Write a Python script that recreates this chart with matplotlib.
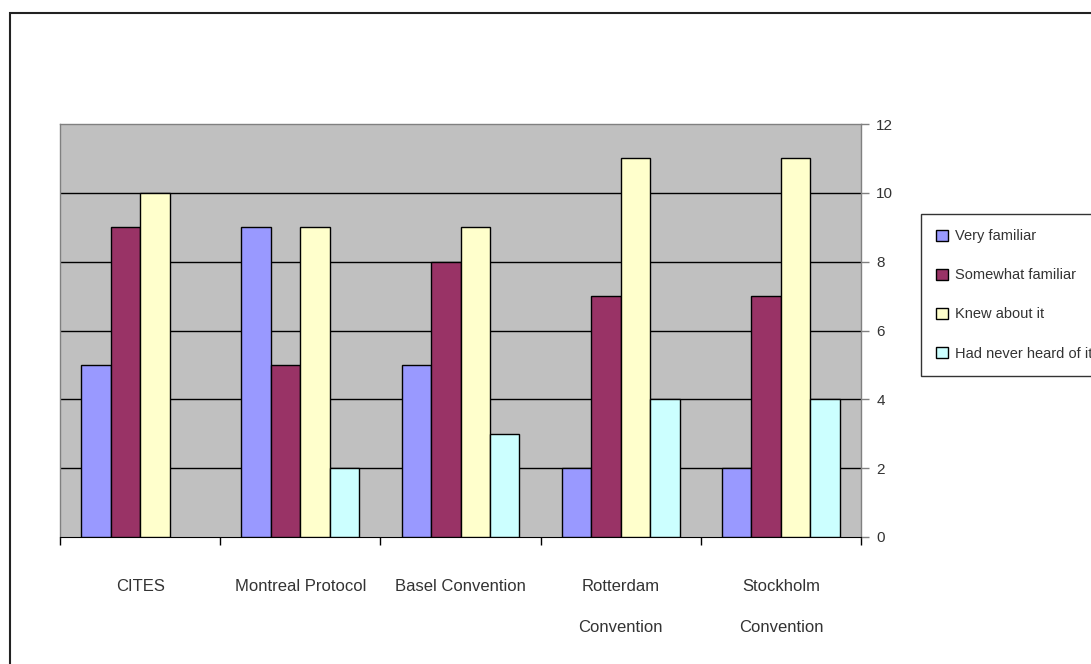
import matplotlib
matplotlib.use('Agg')
import matplotlib.pyplot as plt
from matplotlib.patches import Rectangle, Patch
import numpy as np

categories = [["CITES"], ["Montreal Protocol"], ["Basel Convention"],
              ["Rotterdam", "Convention"], ["Stockholm", "Convention"]]
series = ["Very familiar", "Somewhat familiar", "Knew about it", "Had never heard of it"]
very = [5, 9, 5, 2, 2]
somewhat = [9, 5, 8, 7, 7]
knew = [10, 9, 9, 11, 11]
never = [0, 2, 3, 4, 4]
colors = ["#9999FF", "#993366", "#FFFFCC", "#CCFFFF"]

plt.rcParams['font.family'] = ['Liberation Sans', 'DejaVu Sans']
txt = "#333333"
W, H = 1091, 664

fig = plt.figure(figsize=(W / 100, H / 100), dpi=100)

# outer chart border (only left and top visible)
fig.add_artist(Rectangle((10 / W, -0.1), 1.2, 1 - 13 / H + 0.1, transform=fig.transFigure,
                         fill=False, edgecolor="#222222", linewidth=1.5))

ax = fig.add_axes([60 / W, 1 - 537 / H, 801 / W, 413 / H])
ax.set_facecolor("#C0C0C0")
ax.set_xlim(0, 5)
ax.set_ylim(0, 12)

w = 0.184
x = np.arange(5) + 0.5
for k, vals in enumerate([very, somewhat, knew, never]):
    # zero-valued bars are not drawn at all
    edges = ["black" if v > 0 else "none" for v in vals]
    ax.bar(x + (k - 1.5) * w, vals, width=w, color=colors[k], edgecolor=edges,
           linewidth=1, zorder=3)

for yv in range(2, 12, 2):
    ax.axhline(yv, color="black", linewidth=1, zorder=1)

ax.yaxis.tick_right()
ax.set_yticks(range(0, 13, 2))
ax.tick_params(axis='y', direction='out', length=6, width=1, pad=5,
               labelsize=11, labelcolor=txt, color="#808080")
ax.set_xticks(range(6))
ax.set_xticklabels([])
ax.tick_params(axis='x', direction='out', length=6, width=1, color="black")

for s in ["left", "top", "right"]:
    ax.spines[s].set_color("#808080")
    ax.spines[s].set_linewidth(1)
ax.spines["bottom"].set_color("black")

for i, lines in enumerate(categories):
    for j, line in enumerate(lines):
        ax.annotate(line, xy=(x[i], 0), xycoords=('data', 'axes fraction'),
                    xytext=(0, -35.3 - j * 29.5), textcoords='offset points',
                    ha='center', va='center', fontsize=12, color=txt)

handles = [Patch(facecolor=c, edgecolor="black", linewidth=1) for c in colors]
leg = fig.legend(handles, series, loc='upper left',
                 bbox_to_anchor=(921 / W, 1 - 214 / H), frameon=True, fancybox=False,
                 fontsize=10.5, labelspacing=1.72, handlelength=0.78, handleheight=0.78,
                 handletextpad=0.5, borderpad=1.05, borderaxespad=0)
leg.get_frame().set_edgecolor("black")
leg.get_frame().set_linewidth(1)
for t in leg.get_texts():
    t.set_color(txt)

fig.savefig("out.png", dpi=100)
plt.close(fig)
